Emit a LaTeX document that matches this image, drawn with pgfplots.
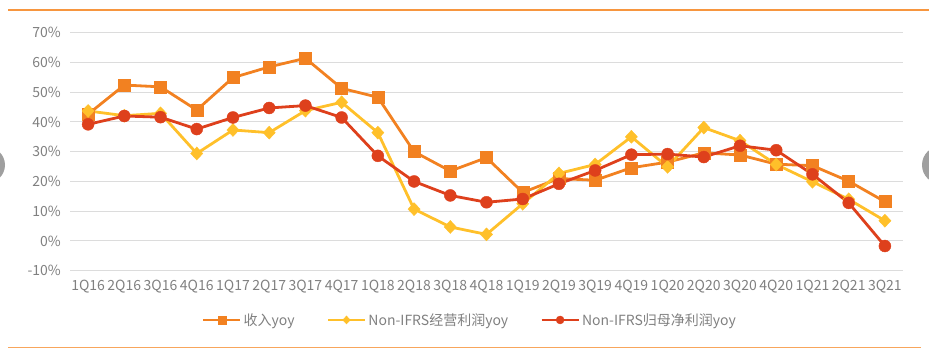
\documentclass[border=0pt]{standalone}
\usepackage{pgfplots}
\pgfplotsset{compat=1.18}
\usepackage{fontspec}
\setmainfont{Noto Sans CJK SC}
\definecolor{cRev}{HTML}{F28121}
\definecolor{cOp}{HTML}{FFC02A}
\definecolor{cNet}{HTML}{DE401C}
\definecolor{cTxt}{HTML}{808080}
\definecolor{cGrid}{HTML}{DCDCDC}
\definecolor{cFrame}{HTML}{F7963F}
\begin{document}
\begin{tikzpicture}
\useasboundingbox (0,0) rectangle (929bp,353bp);
\begin{scope}
\clip (0,0) rectangle (929bp,353bp);
\fill[gray!75] (-13bp,188bp) circle (18bp);
\fill[gray!75] (941bp,188bp) circle (19bp);
\end{scope}
\draw[cFrame,line width=1.3bp] (8bp,343bp) -- (929bp,343bp);
\draw[cFrame!85,line width=1bp] (8bp,5bp) -- (921bp,5bp);
\begin{axis}[
  at={(70bp,82.3bp)}, anchor=south west,
  scale only axis, width=833bp, height=238bp,
  xmin=-0.5, xmax=22.5, ymin=-10, ymax=70,
  xtick={0,...,22},
  xticklabels={1Q16,2Q16,3Q16,4Q16,1Q17,2Q17,3Q17,4Q17,1Q18,2Q18,3Q18,4Q18,1Q19,2Q19,3Q19,4Q19,1Q20,2Q20,3Q20,4Q20,1Q21,2Q21,3Q21},
  ytick={-10,0,...,70},
  yticklabel={\pgfmathprintnumber{\tick}\%},
  /pgf/number format/assume math mode=true,
  axis line style={draw=none},
  tick style={draw=none},
  ymajorgrids, grid style={cGrid,line width=1bp},
  ticklabel style={font=\fontsize{14bp}{16bp}\selectfont, text=cTxt},
  xticklabel style={inner sep=1bp, yshift=-8bp},
  yticklabel style={inner sep=1bp, xshift=-8bp},
  clip=false,
  legend columns=3,
  legend style={at={(0.48,-0.207)}, anchor=center, draw=none, fill=none,
    font=\fontsize{14bp}{16bp}\selectfont, text=cTxt,
    nodes={inner sep=2bp},
    /tikz/every even column/.append style={column sep=30bp}},
  legend image code/.code={\draw[#1, mark repeat=2, mark phase=2] plot coordinates {(0bp,0bp) (18.5bp,0bp) (37bp,0bp)};},
]
\addplot[cRev, line width=2.8bp, mark=square*, mark size=6bp, mark options={solid, line width=0.4bp}, legend image post style={mark size=4bp}] coordinates {
(0,42.6) (1,52.4) (2,51.8) (3,44.0) (4,54.9) (5,58.5) (6,61.4) (7,51.3) (8,48.3) (9,30.0) (10,23.5) (11,28.0) (12,16.3) (13,21.0) (14,20.4) (15,24.6) (16,26.5) (17,29.6) (18,28.9) (19,25.8) (20,25.3) (21,20.1) (22,13.2)};
\addlegendentry{收入yoy}
\addplot[cOp, line width=2.8bp, mark=diamond*, mark size=6.5bp, mark options={solid, line width=0.4bp, xscale=1.25}, legend image post style={mark size=4bp}] coordinates {
(0,43.7) (1,42.1) (2,42.9) (3,29.4) (4,37.3) (5,36.4) (6,43.8) (7,46.6) (8,36.4) (9,10.7) (10,4.7) (11,2.2) (12,12.5) (13,22.7) (14,25.7) (15,35.0) (16,24.9) (17,38.1) (18,33.7) (19,25.7) (20,19.9) (21,14.0) (22,6.8)};
\addlegendentry{Non-IFRS经营利润yoy}
\addplot[cNet, line width=2.8bp, mark=*, mark size=6bp, mark options={solid, line width=0.4bp}, legend image post style={mark size=4bp}] coordinates {
(0,39.2) (1,42.0) (2,41.6) (3,37.6) (4,41.5) (5,44.7) (6,45.5) (7,41.5) (8,28.6) (9,20.0) (10,15.3) (11,13.0) (12,14.1) (13,19.2) (14,23.7) (15,29.0) (16,29.2) (17,28.2) (18,32.0) (19,30.5) (20,22.4) (21,12.8) (22,-1.7)};
\addlegendentry{Non-IFRS归母净利润yoy}
\end{axis}
\end{tikzpicture}
\end{document}
